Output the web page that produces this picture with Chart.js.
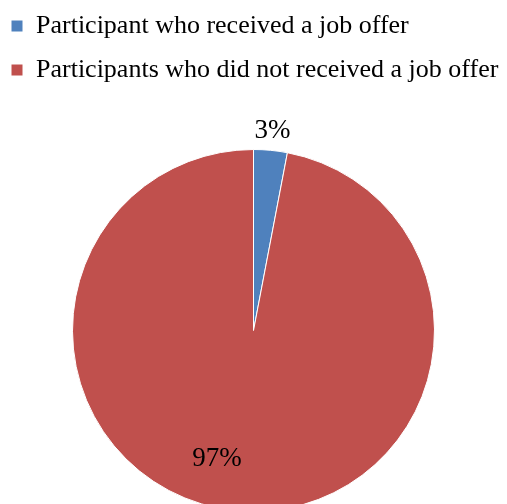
<!DOCTYPE html>
<html>
<head>
<meta charset="utf-8">
<script src="https://cdn.jsdelivr.net/npm/chart.js@4"></script>
<style>
  html, body { margin: 0; padding: 0; background: #fff; overflow: hidden; }
  #wrap { width: 507px; height: 568px; }
</style>
</head>
<body>
<div id="wrap"><canvas id="pie-chart"></canvas></div>
<script>
var labels = ['Participant who received a job offer', 'Participants who did not received a job offer'];
var values = [3, 97];
var colors = ['#4F81BD', '#C0504D'];

// where each percentage sits: fraction of radius, extra angle (deg)
var labelRadius = [1.11, 0.735];
var labelTurn = [0, 10.5];

var pctLabels = {
    id: 'pctLabels',
    afterDatasetsDraw: function (chart) {
        var ctx = chart.ctx;
        var meta = chart.getDatasetMeta(0);
        ctx.save();
        ctx.font = '27px "Liberation Serif", "Times New Roman", serif';
        ctx.fillStyle = '#000';
        ctx.textAlign = 'center';
        ctx.textBaseline = 'middle';
        meta.data.forEach(function (arc, i) {
            var p = arc.getProps(['x', 'y', 'startAngle', 'endAngle', 'outerRadius'], true);
            var a = (p.startAngle + p.endAngle) / 2 + labelTurn[i] * Math.PI / 180;
            var r = p.outerRadius * labelRadius[i];
            ctx.fillText(values[i] + '%', p.x + Math.cos(a) * r, p.y + Math.sin(a) * r);
        });
        ctx.restore();
    }
};

new Chart(document.getElementById('pie-chart'), {
    type: 'pie',
    data: {
        labels: labels,
        datasets: [{
            data: values,
            backgroundColor: colors,
            borderColor: '#ffffff',
            borderWidth: 1,
            radius: 181
        }]
    },
    options: {
        responsive: true,
        maintainAspectRatio: false,
        animation: false,
        layout: { padding: { left: -7, right: -5, top: -5, bottom: 0 } },
        plugins: {
            legend: {
                position: 'top',
                align: 'start',
                labels: {
                    boxWidth: 12,
                    boxHeight: 12,
                    padding: 18,
                    color: '#000',
                    font: { family: '"Liberation Serif", "Times New Roman", serif', size: 26 }
                }
            },
            tooltip: { enabled: false }
        }
    },
    plugins: [pctLabels]
});
</script>
</body>
</html>
